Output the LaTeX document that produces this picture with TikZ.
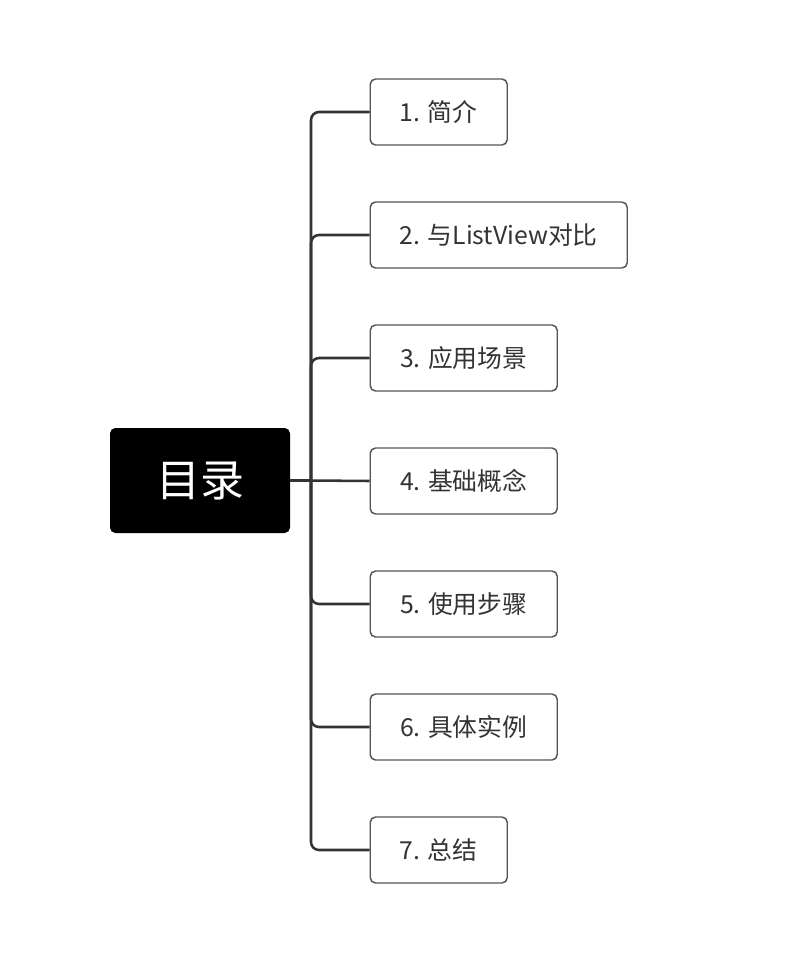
\documentclass[tikz,border=0pt]{standalone}
\usepackage{fontspec}
\setmainfont{Noto Sans CJK SC}
\usepackage{tikz}
\usetikzlibrary{positioning}
\definecolor{linegray}{HTML}{333333}
\definecolor{boxgray}{HTML}{555555}
\begin{document}
\begin{tikzpicture}[x=0.75pt, y=-0.75pt,
% define styles here
rootbox/.style={rectangle, fill=black, rounded corners=4pt, minimum width=135pt,
  minimum height=78.75pt, text=white, font=\fontsize{33}{40}\selectfont},
topicbox/.style={rectangle, draw=boxgray, line width=1.1pt, fill=white, rounded corners=4pt,
  minimum height=49.5pt, anchor=west, text=linegray, font=\fontsize{18.6}{22}\selectfont},
branch/.style={draw=linegray, line width=1.9pt, rounded corners=6pt}
]
\useasboundingbox (0,0) rectangle (810,968);
\node[rootbox] (root) at (200,480.5) {目录};
\coordinate (fork) at (311,480.5);

\node[topicbox, minimum width=102.75pt] (t1) at (369.5,112) {1. 简介};
\node[topicbox, minimum width=192.75pt] (t2) at (369.5,235) {2. 与ListView对比};
\node[topicbox, minimum width=140.25pt] (t3) at (369.5,358) {3. 应用场景};
\node[topicbox, minimum width=140.25pt] (t4) at (369.5,481) {4. 基础概念};
\node[topicbox, minimum width=140.25pt] (t5) at (369.5,604) {5. 使用步骤};
\node[topicbox, minimum width=140.25pt] (t6) at (369.5,727) {6. 具体实例};
\node[topicbox, minimum width=102.75pt] (t7) at (369.5,850) {7. 总结};

\draw[draw=linegray, line width=2.3pt] (root.east) -- (fork);
\foreach \t in {t1,t2,t3,t5,t6,t7}
  \draw[branch] (fork) |- (\t.west);
\draw[draw=linegray, line width=1.9pt] (fork) -- (t4.west);
\end{tikzpicture}
\end{document}
